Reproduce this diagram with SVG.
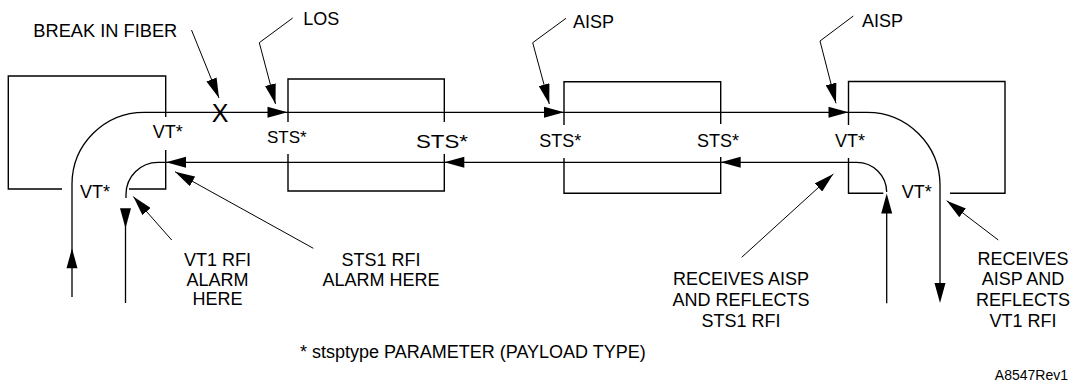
<svg xmlns="http://www.w3.org/2000/svg" width="1075" height="385" viewBox="0 0 1075 385">
  <style>
    .bx { fill: none; stroke: #000; stroke-width: 1.4; }
    .ln { fill: none; stroke: #000; stroke-width: 1.3; }
    .ld { fill: none; stroke: #000; stroke-width: 1; }
    text { font-family: "Liberation Sans", Arial, sans-serif; font-size: 18px; fill: #000; }
    .c { text-anchor: middle; }
  </style>
  <defs>
    <!-- filled arrowhead, tip at origin, pointing +x -->
    <path id="ah" d="M0,0 L-20,-5.5 L-20,5.5 Z" fill="#000"/>
    <marker id="lead" viewBox="0 0 20 11" refX="20" refY="5.5" markerWidth="20" markerHeight="11" markerUnits="userSpaceOnUse" orient="auto">
      <path d="M0,0 L20,5.5 L0,11 Z" fill="#000"/>
    </marker>
  </defs>

  <!-- Node 1: left VT terminal -->
  <g id="node-vt-left">
    <path class="bx" d="M62,189 L8.3,189 L8.3,76 L165.7,76 L165.7,117"/>
    <path class="bx" d="M129,189 L165.7,189 L165.7,150"/>
    <text x="152.7" y="138.3">VT*</text>
    <text x="80" y="198.3">VT*</text>
  </g>

  <!-- Node 2: first STS element -->
  <g id="node-sts-1">
    <path class="bx" d="M288,122 L288,79 L444.3,79 L444.3,122"/>
    <path class="bx" d="M288,154 L288,191 L444.3,191 L444.3,154"/>
    <text x="267" y="143.3" style="font-size:17px">STS*</text>
    <text x="416" y="148.3" textLength="52" lengthAdjust="spacingAndGlyphs" style="font-size:19px">STS*</text>
  </g>

  <!-- Node 3: second STS element -->
  <g id="node-sts-2">
    <path class="bx" d="M564,125 L564,81.7 L720.7,81.7 L720.7,124"/>
    <path class="bx" d="M564,158 L564,193.3 L720.7,193.3 L720.7,157"/>
    <text x="539.3" y="147.3">STS*</text>
    <text x="697" y="146.7">STS*</text>
  </g>

  <!-- Node 4: right VT terminal -->
  <g id="node-vt-right">
    <path class="bx" d="M848.5,125 L848.5,81.5 L1005,81.5 L1005,193.3 L950,193.3"/>
    <path class="bx" d="M848.5,158 L848.5,193.3 L883.3,193.3"/>
    <text x="835" y="147">VT*</text>
    <text x="901.7" y="198.3">VT*</text>
  </g>

  <!-- Signal paths and arrowheads -->
  <g id="connectors">
    <!-- outgoing path: left bend, span, right bend -->
    <path class="ln" d="M72,297 L72,184 A72,72 0 0 1 144,112.3 L867,112.3 A73,73 0 0 1 940,185.3 L940,295"/>
    <!-- return path -->
    <path class="ln" d="M886.7,303.3 L886.7,200"/>
    <path class="ln" d="M886.7,192 A30,30 0 0 0 856.7,162.3 L158,162.3 A32,32 0 0 0 126,194.3 L126,198"/>
    <path class="ln" d="M125.5,210 L125.5,303"/>

    <use href="#ah" transform="translate(287.5,112.3)"/>
    <use href="#ah" transform="translate(564,112.3)"/>
    <use href="#ah" transform="translate(848.5,112.3)"/>
    <use href="#ah" transform="translate(166,162.3) rotate(180)"/>
    <use href="#ah" transform="translate(444.3,162.3) rotate(180)"/>
    <use href="#ah" transform="translate(720.7,162.3) rotate(180)"/>
    <use href="#ah" transform="translate(72,248.3) rotate(-90)"/>
    <use href="#ah" transform="translate(125.5,228.3) rotate(90)"/>
    <use href="#ah" transform="translate(886.7,193.5) rotate(-90)"/>
    <use href="#ah" transform="translate(940,303) rotate(90)"/>

    <!-- callout leaders -->
    <path class="ld" marker-end="url(#lead)" d="M191.5,30 L219,98"/>
    <path class="ld" marker-end="url(#lead)" d="M292.7,18 L259.3,42.7 L275.5,104"/>
    <path class="ld" marker-end="url(#lead)" d="M566,18.3 L532.7,42.7 L549.3,104"/>
    <path class="ld" marker-end="url(#lead)" d="M853.3,16 L820,41 L836,103.3"/>
    <path class="ld" marker-end="url(#lead)" d="M171.7,240 L133.3,196.5"/>
    <path class="ld" marker-end="url(#lead)" d="M313.3,248.3 L175,171.7"/>
    <path class="ld" marker-end="url(#lead)" d="M741.7,257.3 L833.3,174"/>
    <path class="ld" marker-end="url(#lead)" d="M998.3,240 L946.7,200.7"/>
  </g>

  <!-- Callout texts -->
  <g id="labels">
    <text x="33.3" y="37.3" textLength="144" lengthAdjust="spacingAndGlyphs">BREAK IN FIBER</text>
    <text x="220" y="122" class="c" style="font-size:25px">X</text>
    <text x="303.3" y="25">LOS</text>
    <text x="573" y="27.7">AISP</text>
    <text x="862" y="26.7">AISP</text>

    <text class="c" x="217.5" y="266">VT1 RFI</text>
    <text class="c" x="217.5" y="286">ALARM</text>
    <text class="c" x="217.5" y="305">HERE</text>

    <text class="c" x="381" y="266">STS1 RFI</text>
    <text class="c" x="381" y="286">ALARM HERE</text>

    <text class="c" x="741" y="285">RECEIVES AISP</text>
    <text class="c" x="741" y="306">AND REFLECTS</text>
    <text class="c" x="741" y="327">STS1 RFI</text>

    <text class="c" x="1023" y="265">RECEIVES</text>
    <text class="c" x="1023" y="285">AISP AND</text>
    <text class="c" x="1023" y="306">REFLECTS</text>
    <text class="c" x="1023" y="327">VT1 RFI</text>

    <text x="300" y="358">* stsptype PARAMETER (PAYLOAD TYPE)</text>
    <text x="1068" y="380" style="text-anchor:end;font-size:14px">A8547Rev1</text>
  </g>
</svg>
